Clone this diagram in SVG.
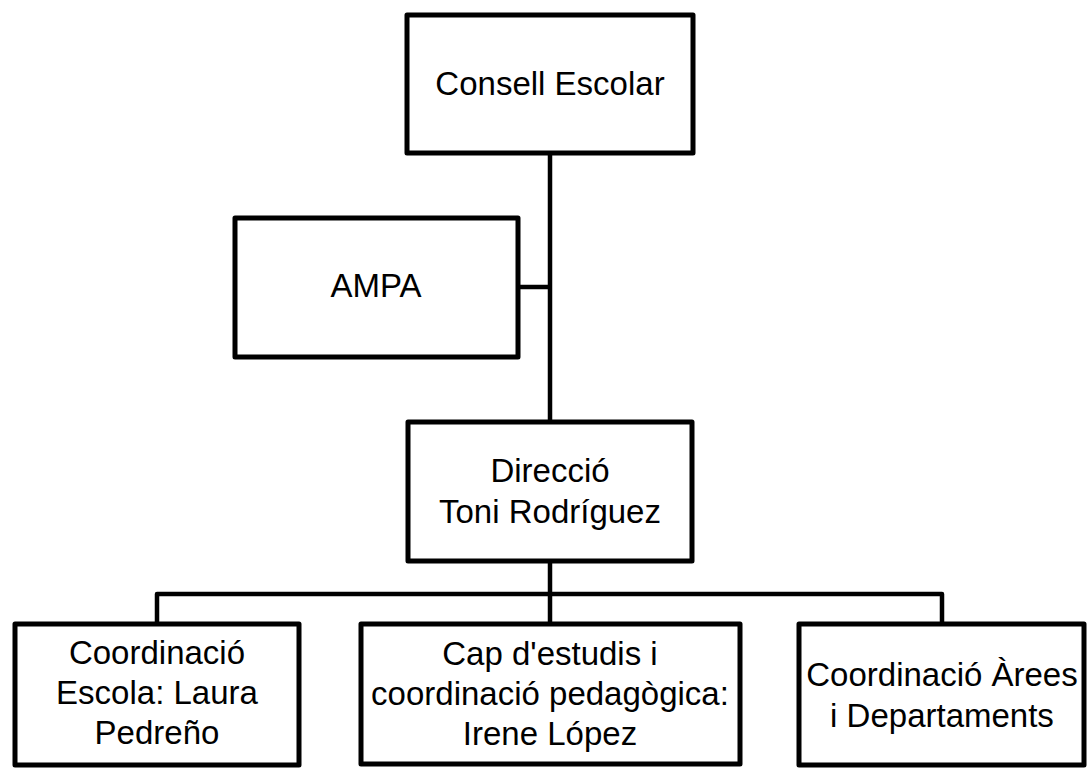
<svg xmlns="http://www.w3.org/2000/svg" width="1087" height="770" viewBox="0 0 1087 770">
<style>
.box{fill:#fff;stroke:#000;stroke-width:5;stroke-linejoin:round}
.conn{fill:none;stroke:#000;stroke-width:4.5;stroke-linejoin:round}
text{font-family:"Liberation Sans",Arial,sans-serif;font-size:33px;fill:#000;text-anchor:middle}
</style>
<rect width="1087" height="770" fill="#fff"/>
<g id="connectors">
<polyline class="conn" points="550,153 550,422"/>
<polyline class="conn" points="518,287 550,287"/>
<polyline class="conn" points="550,561 550,624"/>
<polyline class="conn" points="157,624 157,594 942,594 942,624"/>
</g>
<g id="consell">
<rect class="box" x="407" y="15" width="286" height="138"/>
<text x="550" y="95">Consell Escolar</text>
</g>
<g id="ampa">
<rect class="box" x="235" y="218" width="283" height="139"/>
<text x="376" y="297">AMPA</text>
</g>
<g id="direccio">
<rect class="box" x="408" y="422" width="284" height="139"/>
<text x="550" y="482">Direcció</text>
<text x="550" y="523">Toni Rodríguez</text>
</g>
<g id="coord-escola">
<rect class="box" x="15" y="624" width="284" height="141"/>
<text x="157" y="664">Coordinació</text>
<text x="157" y="704">Escola: Laura</text>
<text x="157" y="744">Pedreño</text>
</g>
<g id="cap-estudis">
<rect class="box" x="361" y="624" width="379" height="140"/>
<text x="550" y="665">Cap d'estudis i</text>
<text x="550" y="705">coordinació pedagògica:</text>
<text x="550" y="745">Irene López</text>
</g>
<g id="coord-arees">
<rect class="box" x="799" y="624" width="285" height="141"/>
<text x="942" y="686">Coordinació Àrees</text>
<text x="942" y="727">i Departaments</text>
</g>
</svg>
